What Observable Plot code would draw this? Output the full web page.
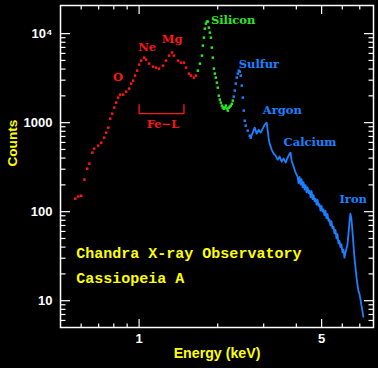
<!DOCTYPE html>
<html>
<head>
<meta charset="utf-8">
<script src="https://cdn.jsdelivr.net/npm/d3@7"></script>
<script src="https://cdn.jsdelivr.net/npm/@observablehq/plot@0.6"></script>
<style>
  html, body { margin: 0; padding: 0; background: #000; }
  #chart svg { display: block; }
</style>
</head>
<body>
<div id="chart"></div>
<script>
// ---- Data ----
const redE = [0.570,0.585,0.600,0.617,0.633,0.645,0.662,0.673,0.697,0.716,0.735,0.748,0.762,0.775,0.789,0.803,0.817,0.831,0.846,0.869,0.892,0.916,0.932,0.949,0.965,0.983,1.000,1.018,1.045,1.063,1.092,1.131,1.161,1.192,1.235,1.268,1.302,1.337,1.360,1.409,1.446,1.485,1.512,1.552,1.580,1.621,1.651];
const redC = [140,148,151,229,304,346,460,511,552,596,678,772,879,1109,1262,1475,1679,1910,2064,2064,2230,2411,2744,2965,3374,3840,4487,4977,5372,5104,4603,4256,4148,4046,4365,4977,5663,6124,5663,4977,4721,4721,4148,3556,3374,3205,3374];

const greenE = [1.679,1.710,1.740,1.755,1.771,1.786,1.802,1.818,1.834,1.850,1.866,1.883,1.899,1.916,1.933,1.950,1.967,1.985,2.002,2.020,2.038,2.056,2.074,2.092,2.110,2.129,2.148,2.167,2.186,2.205,2.225,2.245,2.265,2.285];
const greenC = [3840,4603,5663,7330,9016,11380,12950,13650,13650,11680,10260,9016,6966,5372,4046,3556,3205,2814,2473,2010,1813,1679,1553,1475,1437,1475,1553,1437,1365,1475,1513,1553,1631,1767];

const blueE = [2.305,2.325,2.345,2.366,2.387,2.408,2.430,2.451,2.473,2.495,2.517,2.539,2.561,2.606,2.653,2.676,2.723,2.771,2.821,2.871,2.922,2.974,3.027,3.080,3.108,3.135,3.162,3.218,3.275,3.333,3.392,3.453,3.514,3.576,3.640,3.705,3.770,3.804,3.837,3.905,3.974,4.045,4.080,4.117,4.153,4.190,4.227,4.265,4.302,4.340,4.378,4.416,4.456,4.495,4.535,4.575,4.615,4.656,4.697,4.739,4.781,4.823,4.865,4.908,4.950,4.995,5.039,5.083,5.128,5.173,5.219,5.266,5.312,5.358,5.405,5.453,5.502,5.551,5.600,5.649,5.699,5.749,5.800,5.851,5.903,5.955,6.007,6.060,6.114,6.168,6.277,6.332,6.388,6.445,6.501,6.559,6.616,6.675,6.734,6.795,6.854,6.915,6.976,7.037,7.099,7.161,7.224];
const blueC = [1960,2292,2744,3205,3556,3840,3740,3374,2608,1910,1365,1052,925,813,714,678,772,879,752,834,772,857,950,1000,813,661,581,498,449,426,384,416,365,395,356,405,449,460,374,321,274,247,210,245,201,232,188,214,177,199,165,188,162,172,145,170,138,153,131,140,120,136,116,121,103,116,100,106,91,102,84,94,79,82,70,78,65,68,57,62,50,56,44,47,40,43,35,37.4,30.4,34.6,42.6,55.2,75.2,95,83.4,61.2,43.7,31.2,24.1,18.6,15.5,12.9,12.0,10.5,9.0,7.7,6.6];

// element labels
const redLabels = ["O","Ne","Mg"];
const redLabelE = [0.831,1.073,1.337];
const redLabelC = [3205,6966,8567];
const lineLabels = ["Silicon","Sulfur","Argon","Calcium","Iron"];
const lineLabelE = [1.883,2.408,2.974,3.576,5.851];
const lineLabelC = [14000,4487,1365,596,136];
const lineLabelColor = ["green","blue","blue","blue","blue"];

// Fe-L bracket
const fexE = [1.0,1.0,1.485,1.485];
const fexC = [1592,1262,1262,1592];
const feLabel = "Fe\u2212L", feLabelE = 1.235, feLabelC = 950;

// captions
const captions = ["Chandra X-ray Observatory","Cassiopeia A"];
const captionE = [0.575,0.575];
const captionC = [34.6,17.7];

// ticks
const xMajor = [1,5];
const xMinor = [0.6,0.7,0.8,0.9,2,3,4,6,7];
const yMajor = [10,100,1000,10000];
const yMinor = [6,7,8,9,20,30,40,50,60,70,80,90,200,300,400,500,600,700,800,900,2000,3000,4000,5000,6000,7000,8000,9000];

// ---- build tables ----
const red = redE.map((e,i)=>({E:e,C:redC[i]}));
const green = greenE.map((e,i)=>({E:e,C:greenC[i]}));
const blue = blueE.map((e,i)=>({E:e,C:blueC[i]}));
const redLab = redLabels.map((t,i)=>({t,E:redLabelE[i],C:redLabelC[i]}));
const lineLab = lineLabels.map((t,i)=>({t,E:lineLabelE[i],C:lineLabelC[i],k:lineLabelColor[i]}));
const fex = fexE.map((e,i)=>({E:e,C:fexC[i]}));
const caps = captions.map((t,i)=>({t,E:captionE[i],C:captionC[i]}));

const RED = "#ff1616", GREEN = "#2ee622", BLUE = "#1a80ff", YELLOW = "#ffff00";
const colorOf = {green: GREEN, blue: BLUE};
const tickFont = {fontFamily: "Liberation Sans, Arial, sans-serif", fontSize: 13, fontWeight: "bold"};
const labFont = {fontFamily: "DejaVu Serif, serif", fontSize: 11.5, fontWeight: "bold"};

function xTicks(ticks, size, side) {
  return Plot.axisX({ticks, tickSize: size, anchor: side === "bottom" ? "top" : "bottom", frameAnchor: side,
    fill: "none", stroke: "white", strokeWidth: 1.2, label: null});
}
function yTicks(ticks, size, side) {
  return Plot.axisY({ticks, tickSize: size, anchor: side === "left" ? "right" : "left", frameAnchor: side,
    fill: "none", stroke: "white", strokeWidth: 1.2, label: null});
}

const chart = Plot.plot({
  width: 378,
  height: 368,
  marginLeft: 60,
  marginRight: 5,
  marginTop: 5,
  marginBottom: 41,
  style: {background: "#000", color: "white", overflow: "visible"},
  x: {type: "log", domain: [0.5, 7.9], label: null},
  y: {type: "log", domain: [5, 20700], label: null},
  marks: [
    Plot.frame({stroke: "white", strokeWidth: 1.5}),
    xTicks(xMajor, 9, "bottom"), xTicks(xMinor, 4.5, "bottom"),
    xTicks(xMajor, 9, "top"), xTicks(xMinor, 4.5, "top"),
    yTicks(yMajor, 9, "left"), yTicks(yMinor, 4.5, "left"),
    yTicks(yMajor, 9, "right"), yTicks(yMinor, 4.5, "right"),
    Plot.axisX({ticks: xMajor, anchor: "bottom", tickSize: 0, tickPadding: 6, stroke: "none", fill: "white",
      tickFormat: d => String(d), label: null, ...tickFont}),
    Plot.axisY({ticks: yMajor, anchor: "left", tickSize: 0, tickPadding: 8, stroke: "none", fill: "white",
      tickFormat: d => d === 10000 ? "10\u2074" : String(d), label: null, ...tickFont}),
    Plot.text(["Counts"], {frameAnchor: "left", dx: -48, rotate: -90, fill: YELLOW, ...tickFont, fontSize: 13.6}),
    Plot.text(["Energy (keV)"], {frameAnchor: "bottom", dy: 30, fill: YELLOW, ...tickFont, fontSize: 14.2}),
    // spectrum
    Plot.dot(red, {x: "E", y: "C", r: 1.4, symbol: "square", fill: RED, stroke: null}),
    Plot.dot(green, {x: "E", y: "C", r: 1.4, symbol: "square", fill: GREEN, stroke: null}),
    Plot.dot(blue.filter(d => d.E < 2.7), {x: "E", y: "C", r: 1.4, symbol: "square", fill: BLUE, stroke: null}),
    Plot.line(blue.filter(d => d.E >= 2.67), {x: "E", y: "C", stroke: BLUE, strokeWidth: 1.8}),
    // labels
    Plot.text(redLab, {x: "E", y: "C", text: "t", fill: RED, ...labFont}),
    Plot.text(lineLab, {x: "E", y: "C", text: "t", fill: d => colorOf[d.k], textAnchor: "start", ...labFont}),
    Plot.line(fex, {x: "E", y: "C", stroke: RED, strokeWidth: 1.3}),
    Plot.text([feLabel], {x: () => feLabelE, y: () => feLabelC, fill: RED, ...labFont}),
    Plot.text(caps, {x: "E", y: "C", text: "t", fill: YELLOW, textAnchor: "start",
      fontFamily: "Liberation Mono, monospace", fontSize: 15, fontWeight: "bold"})
  ]
});
document.getElementById("chart").appendChild(chart);
</script>
</body>
</html>
